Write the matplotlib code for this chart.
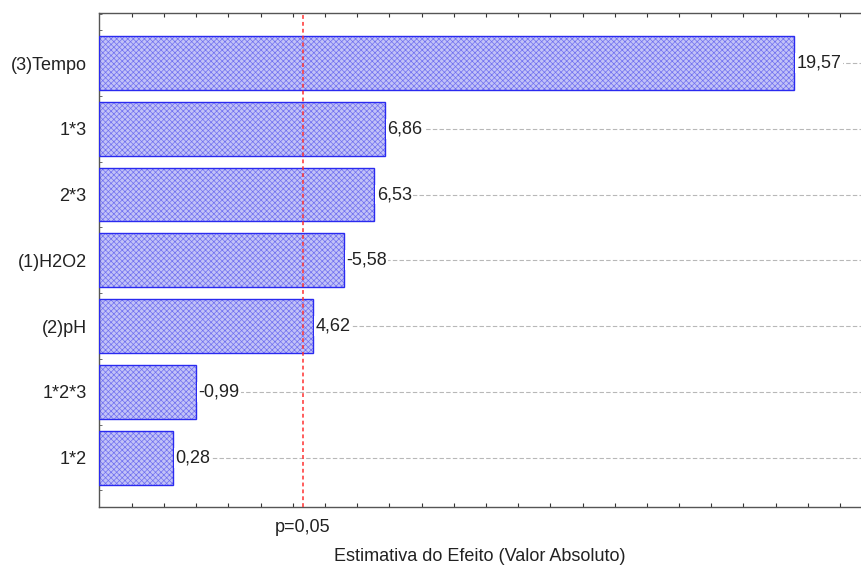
import matplotlib
matplotlib.use("Agg")
import matplotlib.pyplot as plt
import numpy as np

plt.rcParams['font.family'] = ['Liberation Sans', 'DejaVu Sans']
plt.rcParams['hatch.linewidth'] = 0.5

# Pareto of standardized effects (sorted, largest on top)
factors = ["(3)Tempo", "1*3", "2*3", "(1)H2O2", "(2)pH", "1*2*3", "1*2"]
effects = [19.57, 6.86, 6.53, -5.58, 4.62, -0.99, 0.28]
p_crit = 4.303  # t(0.025; 2)

x0, x1 = -2.02, 21.65
fs = 13

fig = plt.figure(figsize=(8.61, 5.67), dpi=100)
ax = fig.add_axes([0.115, 0.106, 0.885, 0.871])

ypos = np.arange(len(factors))
vals = np.abs(effects)

for y in ypos:
    ax.axhline(y, color='#b8b8b8', lw=0.8, ls=(0, (4, 2)), zorder=0)

# bars start at the left edge of the axis, as in Statistica's pareto
ax.barh(ypos, vals - x0, height=0.82, left=x0, facecolor='#c2c2f7',
        edgecolor='#7070f0', hatch='xxxxxx', lw=0, zorder=2)
ax.barh(ypos, vals - x0, height=0.82, left=x0, facecolor='none',
        edgecolor='#2a2af0', lw=1.0, zorder=3)

ax.axvline(p_crit, color='#ff3030', lw=1.1, ls=(0, (2.5, 2)), zorder=4)

for y, v, e in zip(ypos, vals, effects):
    ax.text(v + 0.08, y, f"{e:.2f}".replace('.', ','), va='center', ha='left',
            fontsize=fs, color='#222222', zorder=5,
            bbox=dict(facecolor='white', edgecolor='none', pad=1))

ax.set_xlim(x0, x1)
ax.set_ylim(len(factors) - 1 + 0.73, -0.76)

ax.set_yticks(ypos)
ax.set_yticklabels(factors, fontsize=fs, color='#222222')
ax.set_yticks(np.arange(-0.75, len(factors), 0.25), minor=True)

ax.set_xticks(np.arange(-1, 22, 1))
ax.set_xticklabels([])
ax.tick_params(axis='x', which='both', direction='in', length=3, width=0.8,
               top=True, color='#333333')
ax.tick_params(axis='y', which='major', direction='in', length=3, width=0.8,
               pad=9, color='#333333')
ax.tick_params(axis='y', which='minor', direction='in', length=2, width=0.6,
               color='#555555')

ax.text(p_crit, -0.025, "p=0,05", transform=ax.get_xaxis_transform(),
        ha='center', va='top', fontsize=fs, color='#222222')
ax.set_xlabel("Estimativa do Efeito (Valor Absoluto)", fontsize=fs,
              color='#222222', labelpad=26)

for s in ['left', 'bottom', 'top']:
    ax.spines[s].set_color('#555555')
    ax.spines[s].set_linewidth(1.0)
ax.spines['right'].set_visible(False)

fig.savefig("out.png", dpi=100)
